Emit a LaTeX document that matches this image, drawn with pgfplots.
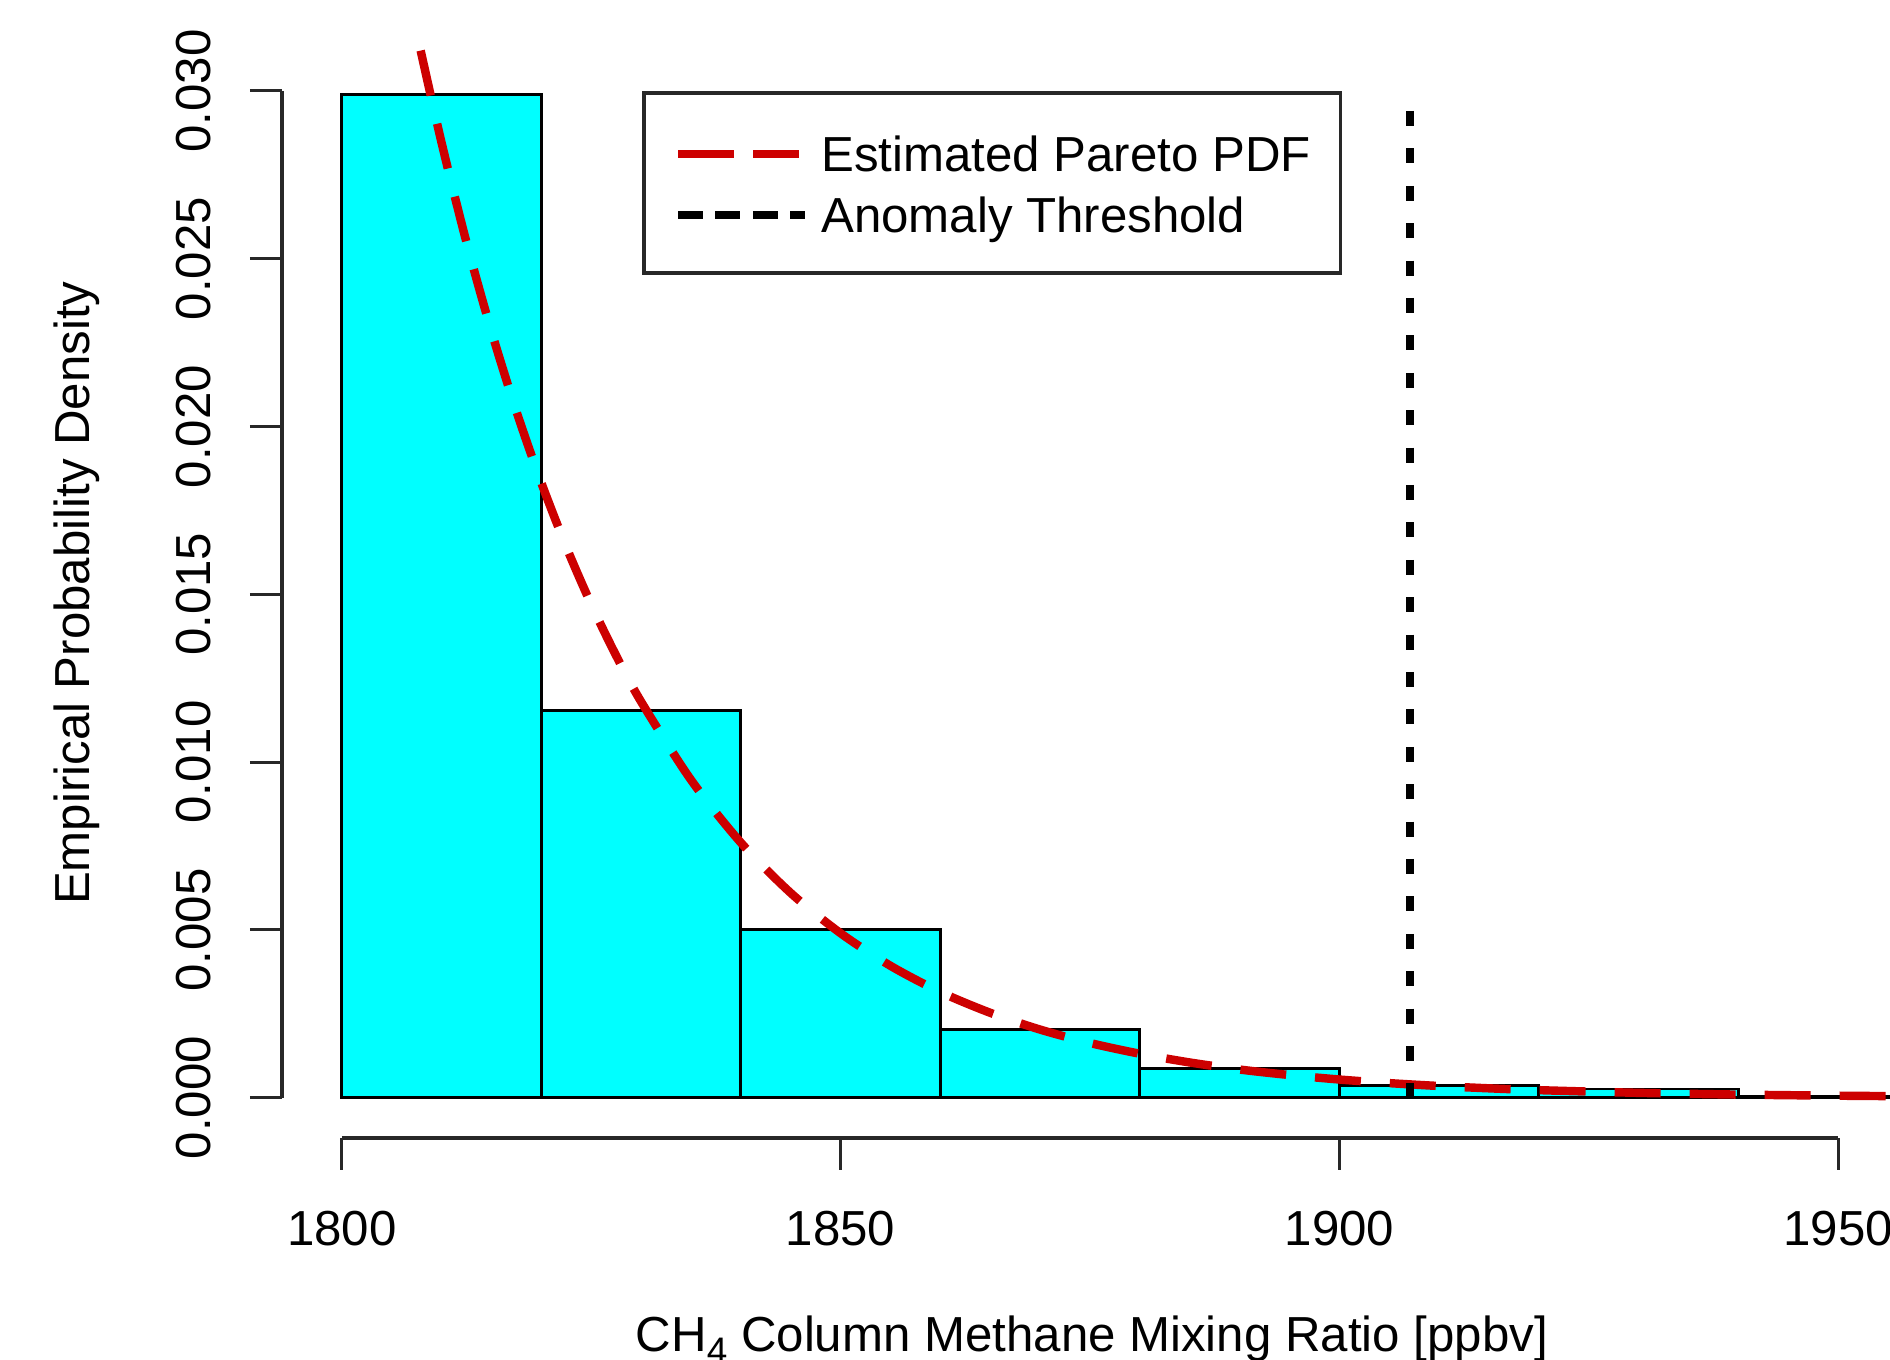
\documentclass[border=0pt]{standalone}
\usepackage{fontspec}
\setmainfont{Liberation Sans}
\usepackage{pgfplots}
\pgfplotsset{compat=1.18}
\definecolor{rcyan}{RGB}{0,255,255}
\definecolor{rred}{RGB}{205,0,0}
\definecolor{axgray}{RGB}{40,40,40}

\begin{document}
\begin{tikzpicture}[font=\fontsize{14}{16.8}\selectfont]
\begin{axis}[
  at={(2.82cm,2.22cm)}, anchor=south west,
  scale only axis, width=16.16cm, height=10.874cm,
  xmin=1794, xmax=1956, ymin=-0.0012, ymax=0.0312,
  clip=false,
  axis lines*=left, axis line style={draw=none},
  tick align=outside, major tick length=0.32cm,
  tick style={axgray, line width=0.9pt},
  xtick={1800,1850,1900,1950},
  ytick={0,0.005,0.010,0.015,0.020,0.025,0.030},
  scaled y ticks=false,
  xticklabel style={/pgf/number format/1000 sep={}, /pgf/number format/assume math mode=true,
    anchor=base, yshift=-0.76cm},
  yticklabel style={/pgf/number format/fixed, /pgf/number format/fixed zerofill,
    /pgf/number format/precision=3, /pgf/number format/assume math mode=true,
    xshift=-0.39cm, rotate=90, anchor=base},
  xlabel={CH\raisebox{-0.45ex}{\fontsize{10.5}{12}\selectfont 4} Column Methane Mixing Ratio [ppbv]},
  ylabel={Empirical Probability Density},
  every axis x label/.style={at={(axis description cs:0.5012,0)}, anchor=base, yshift=-2.14cm},
  every axis y label/.style={at={(axis description cs:0,0.501)}, xshift=-1.924cm, rotate=90, anchor=base},
  legend cell align=left,
  legend image code/.code={
    \path (-0.10cm,-0.0165cm) -- (1.29cm,-0.0165cm);
    \draw[#1] (0cm,-0.0165cm) -- (1cm,-0.0165cm);
  },
  legend style={at={(axis description cs:0.2228,0.9628)}, anchor=north west,
    draw=axgray, line width=1pt, fill=white,
    inner xsep=0.30cm, inner ysep=0.30cm, row sep=0.02cm,
    nodes={inner sep=0pt, text height=0.487cm, text depth=0.103cm}},
]
% histogram bins (density)
\addplot[ybar interval, fill=rcyan, draw=black, line width=0.8pt, forget plot] coordinates {
  (1800,0.02988) (1820,0.01154) (1840,0.00500) (1860,0.00203)
  (1880,0.00087) (1900,0.00037) (1920,0.00026) (1940,0.00005) (1960,0.00005)
};
% axis lines, R style (tick to tick)
\draw[axgray, line width=1pt] (axis cs:1800,-0.0012) -- (axis cs:1950,-0.0012);
\draw[axgray, line width=1pt] (axis cs:1794,0) -- (axis cs:1794,0.030);
% fitted pdf
\addplot[rred, line width=2.4pt, dash pattern=on 0.46cm off 0.29cm, smooth] coordinates {
  (1807.9,0.03120) (1810,0.02845) (1812.5,0.02548) (1815,0.02283) (1817.5,0.02045)
  (1820,0.01832) (1822.5,0.01641) (1825,0.01470) (1827.5,0.01317) (1830,0.01180)
  (1835,0.00947) (1840,0.00760) (1845,0.00610) (1850,0.00490) (1855,0.00393)
  (1860,0.00315) (1865,0.00253) (1870,0.00203) (1875,0.00163) (1880,0.00131)
  (1885,0.00105) (1890,0.00084) (1895,0.000676) (1900,0.000542) (1905,0.000435)
  (1910,0.000349) (1915,0.000280) (1920,0.000225) (1930,0.000145) (1940,0.000093)
  (1950,0.000060) (1956,0.000046)
};
\addlegendentry{Estimated Pareto PDF}
\addplot[black, line width=2.4pt, dash pattern=on 0.15cm off 0.224cm] coordinates {
  (1907.1,0.0294) (1907.1,-0.00015)
};
\addlegendentry{Anomaly Threshold}
\end{axis}
\pgfresetboundingbox
\path[use as bounding box] (0,0) rectangle (18.9cm,13.6cm);
\end{tikzpicture}
\end{document}
